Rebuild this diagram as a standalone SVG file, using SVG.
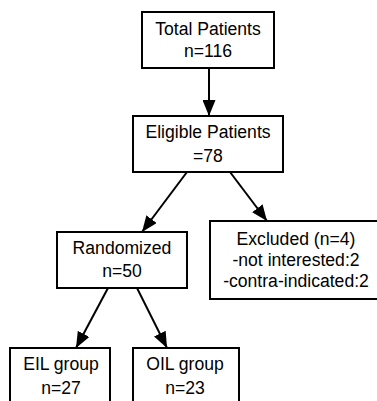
<svg xmlns="http://www.w3.org/2000/svg" width="377" height="401" viewBox="0 0 377 401">
<style>
.box{fill:#fff;stroke:#000;stroke-width:2}
.t{font-family:"Liberation Sans",Arial,sans-serif;font-size:17.6px;fill:#000;text-anchor:middle}
.c{stroke:#000;stroke-width:2;fill:none;marker-end:url(#ah)}
</style>
<defs>
<marker id="ah" markerUnits="userSpaceOnUse" markerWidth="17" markerHeight="13" refX="16" refY="6.5" orient="auto" viewBox="0 0 17 13">
<path d="M0,0 L16,6.5 L0,13 Z" fill="#000"/>
</marker>
</defs>
<rect width="377" height="401" fill="#fff"/>
<g id="connectors">
<line class="c" x1="209" y1="68" x2="209" y2="116"/>
<line class="c" x1="187" y1="172" x2="142" y2="232"/>
<line class="c" x1="230" y1="172" x2="267" y2="221"/>
<line class="c" x1="108" y1="288" x2="76" y2="348"/>
<line class="c" x1="137" y1="288" x2="167" y2="348"/>
</g>
<g id="total">
<rect class="box" x="142" y="12" width="132" height="56"/>
<text class="t" x="208" y="35">Total Patients</text>
<text class="t" x="208" y="57">n=116</text>
</g>
<g id="eligible">
<rect class="box" x="133" y="116" width="150" height="56"/>
<text class="t" x="208" y="138">Eligible Patients</text>
<text class="t" x="208" y="162">=78</text>
</g>
<g id="randomized">
<rect class="box" x="57" y="232" width="130" height="56"/>
<text class="t" x="122" y="254">Randomized</text>
<text class="t" x="122" y="277">n=50</text>
</g>
<g id="excluded">
<rect class="box" x="210" y="221" width="172" height="78"/>
<text class="t" x="296" y="245">Excluded (n=4)</text>
<text class="t" x="296" y="266">-not interested:2</text>
<text class="t" x="296" y="287">-contra-indicated:2</text>
</g>
<g id="eil">
<rect class="box" x="10" y="348" width="100" height="60"/>
<text class="t" x="61" y="370">EIL group</text>
<text class="t" x="61" y="394">n=27</text>
</g>
<g id="oil">
<rect class="box" x="133" y="348" width="106" height="60"/>
<text class="t" x="185" y="370">OIL group</text>
<text class="t" x="185" y="394">n=23</text>
</g>
</svg>
